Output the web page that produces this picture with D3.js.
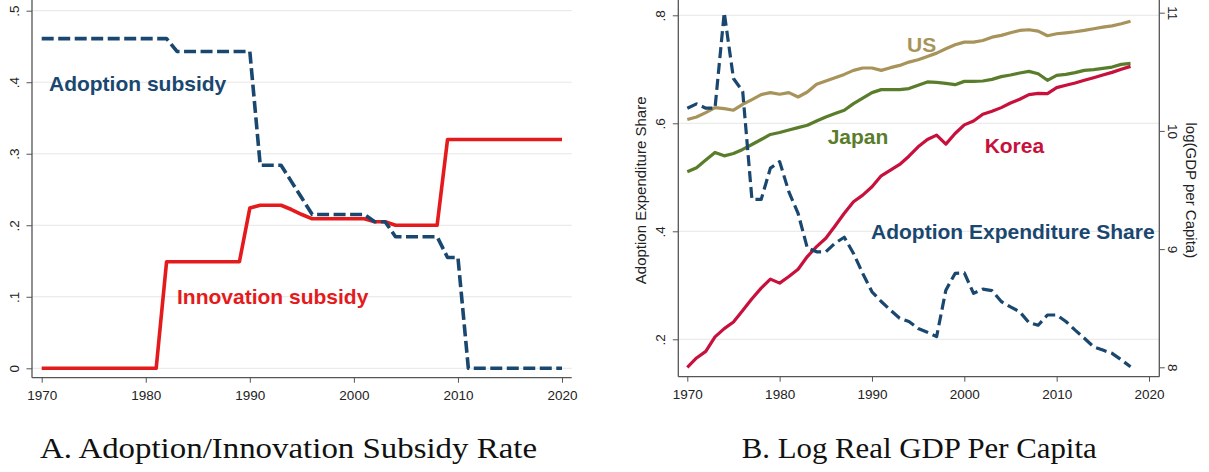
<!DOCTYPE html>
<html>
<head>
<meta charset="utf-8">
<script src="https://cdn.jsdelivr.net/npm/d3@7"></script>
<style>
  html, body { margin: 0; padding: 0; background: #fff; }
  svg { display: block; }
  .tick text { font-family: "Liberation Sans", Arial, sans-serif; font-size: 13.5px; fill: #222; }
</style>
</head>
<body>
<svg id="chart" width="1209" height="472"></svg>
<script>
// ---------- Panel A: subsidy rates ----------
const yearsA = d3.range(1970, 2021);
const adoptionSubsidy = [
  0.461, 0.461, 0.461, 0.461, 0.461, 0.461, 0.461, 0.461, 0.461, 0.461,
  0.461, 0.461, 0.461, 0.443, 0.443, 0.443, 0.443, 0.443, 0.443, 0.443,
  0.443, 0.284, 0.284, 0.284, 0.261, 0.238, 0.215, 0.215, 0.215, 0.215,
  0.215, 0.215, 0.205, 0.205, 0.184, 0.184, 0.184, 0.184, 0.184, 0.155,
  0.155, 0.000, 0.000, 0.000, 0.000, 0.000, 0.000, 0.000, 0.000, 0.000,
  0.000
];
const innovationSubsidy = [
  0.000, 0.000, 0.000, 0.000, 0.000, 0.000, 0.000, 0.000, 0.000, 0.000,
  0.000, 0.000, 0.149, 0.149, 0.149, 0.149, 0.149, 0.149, 0.149, 0.149,
  0.224, 0.228, 0.228, 0.228, 0.222, 0.215, 0.209, 0.209, 0.209, 0.209,
  0.209, 0.209, 0.205, 0.205, 0.200, 0.200, 0.200, 0.200, 0.200, 0.320,
  0.320, 0.320, 0.320, 0.320, 0.320, 0.320, 0.320, 0.320, 0.320, 0.320,
  0.320
];
const rateTicks = [0, 0.1, 0.2, 0.3, 0.4, 0.5];
const rateTickLabels = ["0", ".1", ".2", ".3", ".4", ".5"];

// ---------- Panel B: adoption share and log GDP per capita ----------
const yearsB = d3.range(1970, 2019);
const adoptionShare = [
  0.628, 0.636, 0.628, 0.628, 0.805, 0.683, 0.659, 0.459, 0.459, 0.517,
  0.529, 0.473, 0.433, 0.369, 0.362, 0.362, 0.378, 0.389, 0.359, 0.322,
  0.288, 0.270, 0.254, 0.239, 0.233, 0.220, 0.213, 0.205, 0.291, 0.322,
  0.323, 0.285, 0.293, 0.290, 0.270, 0.260, 0.251, 0.231, 0.226, 0.245,
  0.245, 0.233, 0.217, 0.202, 0.186, 0.180, 0.174, 0.162, 0.149
];
const gdpUS = [
  10.096, 10.118, 10.155, 10.197, 10.189, 10.175, 10.225, 10.265, 10.307, 10.324,
  10.310, 10.324, 10.287, 10.329, 10.394, 10.422, 10.450, 10.478, 10.512, 10.532,
  10.532, 10.512, 10.535, 10.554, 10.582, 10.602, 10.630, 10.658, 10.695, 10.729,
  10.751, 10.751, 10.765, 10.793, 10.808, 10.830, 10.850, 10.856, 10.844, 10.805,
  10.822, 10.830, 10.839, 10.850, 10.864, 10.878, 10.889, 10.906, 10.928
];
const gdpJapan = [
  9.654, 9.688, 9.753, 9.818, 9.789, 9.809, 9.843, 9.885, 9.927, 9.970,
  9.986, 10.008, 10.028, 10.048, 10.084, 10.118, 10.147, 10.175, 10.231, 10.278,
  10.324, 10.349, 10.349, 10.349, 10.358, 10.386, 10.414, 10.410, 10.402, 10.391,
  10.419, 10.419, 10.422, 10.436, 10.459, 10.473, 10.490, 10.504, 10.484, 10.428,
  10.470, 10.478, 10.493, 10.512, 10.518, 10.529, 10.540, 10.563, 10.571
];
const gdpKorea = [
  8.000, 8.079, 8.135, 8.257, 8.327, 8.383, 8.481, 8.580, 8.670, 8.746,
  8.712, 8.768, 8.830, 8.937, 9.021, 9.092, 9.196, 9.303, 9.401, 9.457,
  9.527, 9.620, 9.668, 9.716, 9.786, 9.865, 9.927, 9.964, 9.888, 9.978,
  10.051, 10.084, 10.141, 10.166, 10.197, 10.236, 10.268, 10.307, 10.318, 10.316,
  10.366, 10.386, 10.405, 10.428, 10.450, 10.473, 10.495, 10.521, 10.546
];
const shareTicks = [0.2, 0.4, 0.6, 0.8];
const shareTickLabels = [".2", ".4", ".6", ".8"];
const gdpTicks = [8, 9, 10, 11];
const yearTicks = [1970, 1980, 1990, 2000, 2010, 2020];

// ---------- styling ----------
const NAVY = "#1a476f", RED = "#e41a1c", CRIMSON = "#c8103c", SAND = "#a8935a", OLIVE = "#5a7d2c";
const AXIS = "#555", GRID = "#e6e6e6";
const SANS = '"Liberation Sans", Arial, sans-serif';
const SERIF = '"Liberation Serif", "Times New Roman", serif';

const svg = d3.select("#chart");
svg.append("rect").attr("width", 1209).attr("height", 472).attr("fill", "#fff");

function styleAxis(g) {
  g.select(".domain").remove();
  g.selectAll(".tick line").attr("stroke", AXIS).attr("stroke-width", 1);
}

function yearAxis(g, x, top, bottom) {
  const ax = g.append("g").attr("transform", `translate(0,${bottom})`)
    .call(d3.axisBottom(x).tickValues(yearTicks).tickFormat(d3.format("d")).tickSize(5).tickSizeOuter(0));
  styleAxis(ax);
  ax.selectAll(".tick text").attr("y", 22).attr("dy", null);
}

function frame(g, left, right, top, bottom) {
  g.append("line").attr("x1", left).attr("x2", left).attr("y1", top).attr("y2", bottom)
    .attr("stroke", AXIS).attr("stroke-width", 1.3);
  g.append("line").attr("x1", left).attr("x2", right).attr("y1", bottom).attr("y2", bottom)
    .attr("stroke", AXIS).attr("stroke-width", 1.3);
}

function rotatedLabels(ax, offset, angle) {
  ax.selectAll(".tick text")
    .attr("x", null).attr("dy", null).attr("y", null)
    .attr("text-anchor", "middle")
    .attr("transform", `translate(${offset},0) rotate(${angle})`);
}

function label(g, text, x, y, color) {
  g.append("text").attr("x", x).attr("y", y).text(text)
    .attr("font-family", SANS).attr("font-weight", "bold").attr("font-size", 21).attr("fill", color);
}

// ===== Panel A =====
{
  const L = 32, R = 571.7, T = 0, B = 377.7;
  const x = d3.scaleLinear().domain([1970, 2020]).range([41.7, 562]);
  const y = d3.scaleLinear().domain([0, 0.5]).range([368.3, 10.7]);
  const g = svg.append("g");

  g.append("g").selectAll("line").data(rateTicks).join("line")
    .attr("x1", L).attr("x2", R).attr("y1", d => y(d)).attr("y2", d => y(d))
    .attr("stroke", GRID).attr("stroke-width", 1);

  const ay = g.append("g").attr("transform", `translate(${L},0)`)
    .call(d3.axisLeft(y).tickValues(rateTicks).tickFormat((d, i) => rateTickLabels[i]).tickSize(5.5).tickSizeOuter(0));
  styleAxis(ay);
  rotatedLabels(ay, -13.5, -90);
  yearAxis(g, x, T, B);
  frame(g, L, R, T, B);

  const line = d3.line().x((d, i) => x(yearsA[i])).y(d => y(d));
  g.append("path").datum(innovationSubsidy).attr("d", line)
    .attr("fill", "none").attr("stroke", RED).attr("stroke-width", 3.6).attr("stroke-linejoin", "round");
  g.append("path").datum(adoptionSubsidy).attr("d", line)
    .attr("fill", "none").attr("stroke", NAVY).attr("stroke-width", 3.6)
    .attr("stroke-dasharray", "12,4.5").attr("stroke-linejoin", "round");

  label(g, "Adoption subsidy", x(1970.7), y(0.388), NAVY);
  label(g, "Innovation subsidy", x(1983.0), y(0.0904), RED);
}

// ===== Panel B =====
{
  const L = 678.3, R = 1159.3, T = 0, B = 376.7;
  const x = d3.scaleLinear().domain([1970, 2020]).range([687.3, 1149]);
  const yS = d3.scaleLinear().domain([0.2, 0.8]).range([339.3, 15.3]);
  const yG = d3.scaleLinear().domain([8, 11]).range([367.3, 12.7]);
  const g = svg.append("g");

  g.append("g").selectAll("line").data(shareTicks).join("line")
    .attr("x1", L).attr("x2", R).attr("y1", d => yS(d)).attr("y2", d => yS(d))
    .attr("stroke", GRID).attr("stroke-width", 1);

  const ayL = g.append("g").attr("transform", `translate(${L},0)`)
    .call(d3.axisLeft(yS).tickValues(shareTicks).tickFormat((d, i) => shareTickLabels[i]).tickSize(5.5).tickSizeOuter(0));
  styleAxis(ayL);
  rotatedLabels(ayL, -13.3, -90);

  const ayR = g.append("g").attr("transform", `translate(${R},0)`)
    .call(d3.axisRight(yG).tickValues(gdpTicks).tickFormat(d3.format("d")).tickSize(5.5).tickSizeOuter(0));
  styleAxis(ayR);
  rotatedLabels(ayR, 9, 90);

  yearAxis(g, x, T, B);
  frame(g, L, R, T, B);
  g.append("line").attr("x1", R).attr("x2", R).attr("y1", T).attr("y2", B)
    .attr("stroke", AXIS).attr("stroke-width", 1.3);

  g.append("text").text("Adoption Expenditure Share")
    .attr("transform", `translate(646,${(T + B) / 2 + 2}) rotate(-90)`)
    .attr("text-anchor", "middle").attr("font-family", SANS).attr("font-size", 15).attr("fill", "#222");
  g.append("text").text("log(GDP per Capita)")
    .attr("transform", `translate(1186,${(T + B) / 2 + 2}) rotate(90)`)
    .attr("text-anchor", "middle").attr("font-family", SANS).attr("font-size", 15).attr("fill", "#222");

  const gLine = d3.line().x((d, i) => x(yearsB[i])).y(d => yG(d));
  const sLine = d3.line().x((d, i) => x(yearsB[i])).y(d => yS(d));
  [[gdpUS, SAND], [gdpJapan, OLIVE], [gdpKorea, CRIMSON]].forEach(([s, c]) => {
    g.append("path").datum(s).attr("d", gLine)
      .attr("fill", "none").attr("stroke", c).attr("stroke-width", 3.2).attr("stroke-linejoin", "round");
  });
  g.append("path").datum(adoptionShare).attr("d", sLine)
    .attr("fill", "none").attr("stroke", NAVY).attr("stroke-width", 3.2)
    .attr("stroke-dasharray", "11,5").attr("stroke-linejoin", "round");

  label(g, "US", x(1993.8), yG(10.67), SAND);
  label(g, "Japan", x(1985.2), yG(9.893), OLIVE);
  label(g, "Korea", x(2002.2), yG(9.816), CRIMSON);
  label(g, "Adoption Expenditure Share", x(1989.9), yS(0.386), NAVY);
}

// ===== Captions =====
svg.append("text").text("A. Adoption/Innovation Subsidy Rate")
  .attr("x", 40).attr("y", 458.3).attr("font-family", SERIF).attr("font-size", 29).attr("fill", "#111")
  .attr("textLength", 497).attr("lengthAdjust", "spacingAndGlyphs");
svg.append("text").text("B. Log Real GDP Per Capita")
  .attr("x", 741.7).attr("y", 458.3).attr("font-family", SERIF).attr("font-size", 29).attr("fill", "#111")
  .attr("textLength", 355).attr("lengthAdjust", "spacingAndGlyphs");
</script>
</body>
</html>
